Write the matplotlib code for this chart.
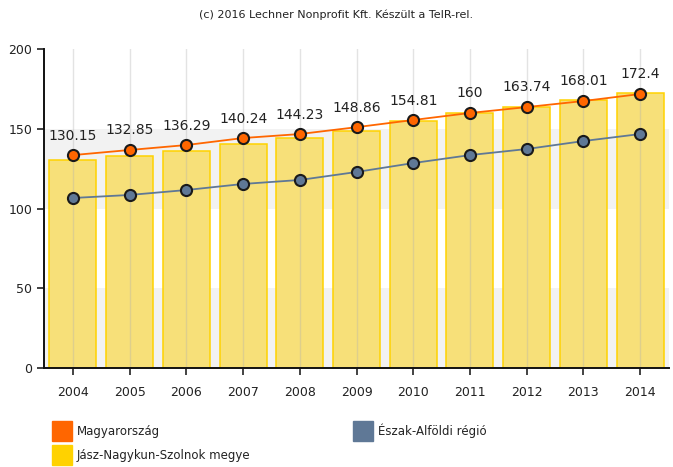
import matplotlib
matplotlib.use("Agg")
import matplotlib.pyplot as plt
from matplotlib.patches import Rectangle

# Index values per year
years = ["2004", "2005", "2006", "2007", "2008", "2009", "2010", "2011", "2012", "2013", "2014"]
megye = [130.15, 132.85, 136.29, 140.24, 144.23, 148.86, 154.81, 160, 163.74, 168.01, 172.4]
magyarorszag = [133.5, 136.7, 139.8, 144.2, 146.7, 151.0, 155.5, 159.9, 163.6, 167.4, 171.8]
regio = [106.6, 108.5, 111.6, 115.4, 117.9, 122.9, 128.5, 133.5, 137.3, 142.3, 146.7]

names = ["Magyarország", "Észak-Alföldi régió", "Jász-Nagykun-Szolnok megye"]
orange = "#ff6600"
grey = "#5f7896"
gold = "#ffd200"

fig = plt.figure(figsize=(6.73, 4.67), dpi=100)
ax = fig.add_axes([0.0654, 0.212, 0.9287, 0.683])

x = list(range(len(years)))

# alternating horizontal bands
for lo in (0, 100):
    ax.axhspan(lo, lo + 50, color="#f2f2f2", zorder=0, lw=0)

ax.bar(x, megye, width=0.83, color="#f7e079", edgecolor=gold, linewidth=1.1, zorder=1)
for xi in x:
    ax.axvline(xi, color="#b0b0b0", alpha=0.35, lw=1, zorder=2)

ax.plot(x, magyarorszag, color=orange, lw=1.3, zorder=3)
ax.plot(x, magyarorszag, "o", ms=8, mfc=orange, mec="#1a1a1a", mew=1.5, zorder=4)
ax.plot(x, regio, color=grey, lw=1.3, zorder=3)
ax.plot(x, regio, "o", ms=8, mfc=grey, mec="#1a1a1a", mew=1.5, zorder=4)

for xi, v, top in zip(x, megye, magyarorszag):
    ax.annotate(f"{v:g}", (xi, max(v, top)), xytext=(0, 9), textcoords="offset points",
                ha="center", va="bottom", fontsize=10, color="#222222", zorder=5)

ax.set_xlim(-0.51, len(years) - 0.49)
ax.set_ylim(0, 200)
ax.set_yticks([0, 50, 100, 150, 200])
ax.set_xticks(x)
ax.set_xticklabels(years)
ax.tick_params(axis="both", labelsize=9, colors="#222222", length=5, width=1.2)
ax.tick_params(axis="x", pad=8)
for s in ("top", "right"):
    ax.spines[s].set_visible(False)
for s in ("left", "bottom"):
    ax.spines[s].set_linewidth(1.4)
    ax.spines[s].set_color("#111111")

fig.text(0.5, 0.968, "(c) 2016 Lechner Nonprofit Kft. Készült a TeIR-rel.",
         ha="center", va="center", fontsize=8, color="#222222")

# legend drawn below the axes
W, H = 673, 467
entries = [(52, 421, orange, names[0]), (353, 421, grey, names[1]), (52, 445, gold, names[2])]
for px, py, c, label in entries:
    fig.patches.append(Rectangle((px / W, 1 - (py + 20) / H), 20 / W, 20 / H,
                                 transform=fig.transFigure, color=c))
    fig.text((px + 25) / W, 1 - (py + 10) / H, label, ha="left", va="center",
             fontsize=8.5, color="#222222")

fig.savefig("out.png", dpi=100)
